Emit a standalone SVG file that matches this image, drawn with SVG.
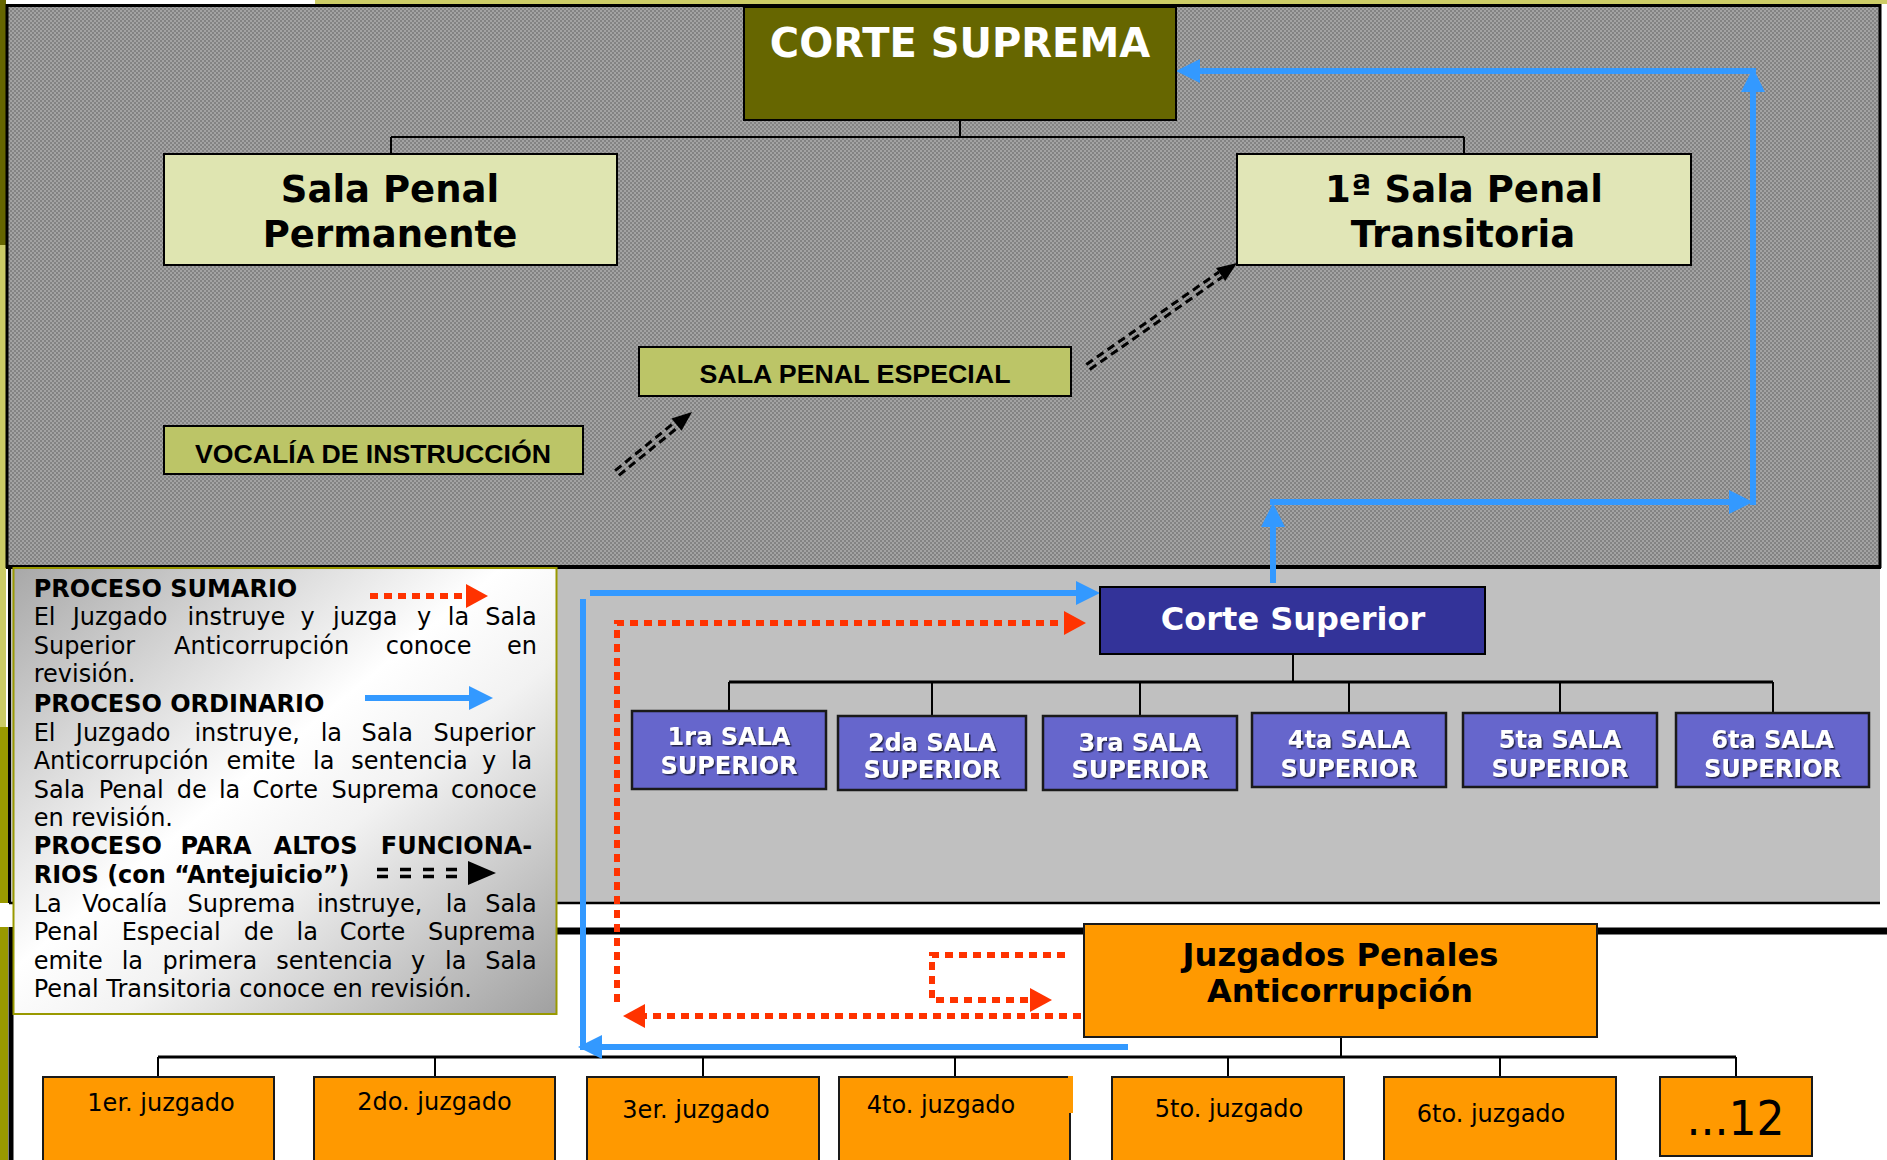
<svg xmlns="http://www.w3.org/2000/svg" width="1887" height="1160" viewBox="0 0 1887 1160">
<defs>
<pattern id="chk" width="4" height="4" patternUnits="userSpaceOnUse">
<rect width="4" height="4" fill="#a3a3a3"/>
<rect width="2" height="2" fill="#838383"/>
<rect x="2" y="2" width="2" height="2" fill="#838383"/>
</pattern>
<linearGradient id="lgGrad" x1="0" y1="0" x2="1" y2="1">
<stop offset="0" stop-color="#a8a8a8"/>
<stop offset="0.45" stop-color="#ffffff"/>
<stop offset="0.6" stop-color="#f2f2f2"/>
<stop offset="1" stop-color="#a0a0a0"/>
</linearGradient>
<marker id="mb" viewBox="0 0 24 24" markerWidth="24" markerHeight="24" refX="0" refY="12" orient="auto" markerUnits="userSpaceOnUse"><path d="M0,0 L24,12 L0,24 Z" fill="#3399ff"/></marker>
<marker id="mr" viewBox="0 0 22 24" markerWidth="22" markerHeight="24" refX="0" refY="12" orient="auto" markerUnits="userSpaceOnUse"><path d="M0,0 L22,12 L0,24 Z" fill="#ff3300"/></marker>
<filter id="sh" x="-10%" y="-10%" width="130%" height="140%"><feDropShadow dx="1.5" dy="1.5" stdDeviation="0.6" flood-color="#1a1a40" flood-opacity="0.9"/></filter>
</defs>
<style>
.db{font-family:'DejaVu Sans',Verdana,sans-serif;font-weight:bold}
.dr{font-family:'DejaVu Sans',Verdana,sans-serif}
.ab{font-family:'Liberation Sans',Arial,sans-serif;font-weight:bold}
.c{text-anchor:middle}
.lg{font-size:24px;fill:#000}
.con{stroke:#000;stroke-width:2;fill:none}
.blue{stroke:#3399ff;stroke-width:6;fill:none}
.red{stroke:#ff3300;stroke-width:6;fill:none;stroke-dasharray:8 6}
.dd{stroke:#000;stroke-width:3;stroke-dasharray:8 5;fill:none}
.box{stroke:#000;stroke-width:2}
.sup{fill:#6666cc;stroke:#1a1a1a;stroke-width:2.5}
.jz{fill:#ff9900;stroke:#1a1a1a;stroke-width:2}
.st{font-size:24px;fill:#fff}
.jt{font-size:24px;fill:#000}
</style>
<rect width="1887" height="1160" fill="#ffffff"/>
<g id="background">
<rect x="315" y="0" width="1572" height="4" fill="#cccc66"/>
<rect x="0" y="0" width="6" height="245" fill="#666600"/>
<rect x="0" y="245" width="6" height="482" fill="#cccc66"/>
<rect x="0" y="727" width="8" height="176" fill="#999900"/>
<rect x="0" y="927" width="8" height="233" fill="#999900"/>
<rect x="7" y="5.5" width="1873" height="561" fill="url(#chk)" stroke="#000" stroke-width="3"/>
<line x1="6" y1="567" x2="1881" y2="567" stroke="#000" stroke-width="4"/>
<rect x="9" y="569" width="1871" height="334" fill="#c0c0c0"/>
<line x1="9.5" y1="566" x2="9.5" y2="903" stroke="#000" stroke-width="3"/>
<line x1="9" y1="903" x2="1880" y2="903" stroke="#000" stroke-width="2.5"/>
<line x1="11" y1="931" x2="1887" y2="931" stroke="#000" stroke-width="7"/>
<line x1="11" y1="927" x2="11" y2="1160" stroke="#000" stroke-width="5"/>
</g>
<g id="connectors">
<path class="con" d="M960,120 V137 M391,137 H1464 M391,137 V154 M1464,137 V154"/>
<path class="con" d="M1293,654 V682"/>
<line x1="729" y1="682" x2="1773" y2="682" stroke="#000" stroke-width="3"/>
<path class="con" d="M729,682 V711 M932,682 V716 M1140,682 V716 M1349,682 V713 M1560,682 V713 M1773,682 V713"/>
<path class="con" d="M1341,1037 V1057"/>
<line x1="158" y1="1057" x2="1736" y2="1057" stroke="#000" stroke-width="3"/>
<path class="con" d="M158,1057 V1077 M435,1057 V1077 M703,1057 V1077 M955,1057 V1077 M1228,1057 V1077 M1500,1057 V1077 M1736,1057 V1077"/>
<path class="blue" d="M1273,583 V527" marker-end="url(#mb)"/>
<path class="blue" d="M1270,502 H1729" marker-end="url(#mb)"/>
<path class="blue" d="M1753,505 V92" marker-end="url(#mb)"/>
<path class="blue" d="M1756,71 H1200" marker-end="url(#mb)"/>
<path class="blue" d="M590,593 H1076" marker-end="url(#mb)"/>
<path class="blue" d="M583,599 V1050"/>
<path class="blue" d="M1128,1047 H602" marker-end="url(#mb)"/>
<path class="red" d="M1081,1016 H645" marker-end="url(#mr)"/>
<path class="red" d="M617,1002 V623 H1064" marker-end="url(#mr)"/>
<path class="red" d="M1065,955 H932 V1000 H1030" marker-end="url(#mr)"/>
<g transform="translate(617,473) rotate(-39.1)">
<line class="dd" x1="0" y1="-3" x2="77" y2="-3"/>
<line class="dd" x1="0" y1="3" x2="77" y2="3"/>
<polygon points="96.7,0 76.7,-8 76.7,8" fill="#000"/>
</g>
<g transform="translate(1088,367) rotate(-34.9)">
<line class="dd" x1="0" y1="-3" x2="161.7" y2="-3"/>
<line class="dd" x1="0" y1="3" x2="161.7" y2="3"/>
<polygon points="181.7,0 161.7,-8 161.7,8" fill="#000"/>
</g>
</g>
<g id="corte-suprema">
<rect x="744" y="7" width="432" height="113" fill="#666600" class="box"/>
<text class="db c" x="960" y="57" font-size="40" fill="#ffffff">CORTE SUPREMA</text>
</g>
<g id="sala-penal-permanente">
<rect x="164" y="154" width="453" height="111" fill="#dfe5b1" class="box"/>
<text class="db c" x="390" y="202" font-size="37">Sala Penal</text>
<text class="db c" x="390" y="247" font-size="37">Permanente</text>
</g>
<g id="sala-penal-transitoria">
<rect x="1237" y="154" width="454" height="111" fill="#e1e6b7" class="box"/>
<text class="db c" x="1464" y="202" font-size="37">1ª Sala Penal</text>
<text class="db c" x="1463" y="247" font-size="37">Transitoria</text>
</g>
<g id="sala-penal-especial">
<rect x="639" y="347" width="432" height="49" fill="#bcc567" class="box"/>
<text class="ab c" x="855" y="383" font-size="26" textLength="311" lengthAdjust="spacingAndGlyphs">SALA PENAL ESPECIAL</text>
</g>
<g id="vocalia">
<rect x="164" y="426" width="419" height="48" fill="#bcc567" class="box"/>
<text class="ab c" x="373" y="463" font-size="26" textLength="356" lengthAdjust="spacingAndGlyphs">VOCALÍA DE INSTRUCCIÓN</text>
</g>
<g id="leyenda">
<rect x="13.5" y="568" width="543" height="446" fill="url(#lgGrad)" stroke="#999900" stroke-width="2"/>
<text class="db lg" x="33.7" y="597">PROCESO SUMARIO</text>
<path class="red" d="M370,596 H466" marker-end="url(#mr)"/>
<text class="dr lg" y="625"><tspan x="33.7">El </tspan><tspan x="72.7">Juzgado </tspan><tspan x="187.5">instruye </tspan><tspan x="300.4">y </tspan><tspan x="333">juzga </tspan><tspan x="417">y </tspan><tspan x="447.8">la </tspan><tspan x="485.3">Sala</tspan></text>
<text class="dr lg" y="654"><tspan x="33.7">Superior </tspan><tspan x="174">Anticorrupción </tspan><tspan x="385.8">conoce </tspan><tspan x="507">en</tspan></text>
<text class="dr lg" x="33.7" y="682">revisión.</text>
<text class="db lg" x="33.7" y="712">PROCESO ORDINARIO</text>
<path class="blue" d="M365,698 H469" stroke-width="7" marker-end="url(#mb)"/>
<text class="dr lg" y="741"><tspan x="33.7">El </tspan><tspan x="75.8">Juzgado </tspan><tspan x="194.4">instruye, </tspan><tspan x="320.7">la </tspan><tspan x="361.6">Sala </tspan><tspan x="433.6">Superior</tspan></text>
<text class="dr lg" y="769"><tspan x="33.7">Anticorrupción </tspan><tspan x="226.6">emite </tspan><tspan x="313">la </tspan><tspan x="351.3">sentencia </tspan><tspan x="482">y </tspan><tspan x="510.9">la</tspan></text>
<text class="dr lg" y="798"><tspan x="33.7">Sala </tspan><tspan x="98.7">Penal </tspan><tspan x="176.8">de </tspan><tspan x="218.9">la </tspan><tspan x="252.6">Corte </tspan><tspan x="331.4">Suprema </tspan><tspan x="451">conoce</tspan></text>
<text class="dr lg" x="33.7" y="826">en revisión.</text>
<text class="db lg" y="854"><tspan x="33.7">PROCESO </tspan><tspan x="180.6">PARA </tspan><tspan x="273.6">ALTOS </tspan><tspan x="380.8">FUNCIONA-</tspan></text>
<text class="db lg" x="33.7" y="883">RIOS (con “Antejuicio”)</text>
<line x1="377" y1="869.5" x2="466" y2="869.5" stroke="#000" stroke-width="3.5" stroke-dasharray="11 12"/>
<line x1="377" y1="876.5" x2="466" y2="876.5" stroke="#000" stroke-width="3.5" stroke-dasharray="11 12"/>
<polygon points="468,861 496,873 468,885" fill="#000"/>
<text class="dr lg" y="912"><tspan x="33.7">La </tspan><tspan x="82.3">Vocalía </tspan><tspan x="187.5">Suprema </tspan><tspan x="316.9">instruye, </tspan><tspan x="445.8">la </tspan><tspan x="485.3">Sala</tspan></text>
<text class="dr lg" y="940"><tspan x="33.7">Penal </tspan><tspan x="121.7">Especial </tspan><tspan x="243.8">de </tspan><tspan x="296.6">la </tspan><tspan x="339.8">Corte </tspan><tspan x="427.9">Suprema</tspan></text>
<text class="dr lg" y="969"><tspan x="33.7">emite </tspan><tspan x="121.7">la </tspan><tspan x="162.6">primera </tspan><tspan x="276.3">sentencia </tspan><tspan x="411">y </tspan><tspan x="445.1">la </tspan><tspan x="485.3">Sala</tspan></text>
<text class="dr lg" x="33.7" y="997">Penal Transitoria conoce en revisión.</text>
</g>
<g id="corte-superior">
<rect x="1100" y="587" width="385" height="67" fill="#333399" class="box"/>
<text class="db c" x="1293" y="630" font-size="32" fill="#ffffff">Corte Superior</text>
</g>
<g id="sala-superior-1">
<rect x="632" y="711" width="194" height="78" class="sup"/>
<text class="db c st" x="729" y="745" filter="url(#sh)">1ra SALA</text>
<text class="db c st" x="729" y="774" filter="url(#sh)">SUPERIOR</text>
</g>
<g id="sala-superior-2">
<rect x="838" y="716" width="188" height="74" class="sup"/>
<text class="db c st" x="932" y="751" filter="url(#sh)">2da SALA</text>
<text class="db c st" x="932" y="778" filter="url(#sh)">SUPERIOR</text>
</g>
<g id="sala-superior-3">
<rect x="1043" y="716" width="194" height="74" class="sup"/>
<text class="db c st" x="1140" y="751" filter="url(#sh)">3ra SALA</text>
<text class="db c st" x="1140" y="778" filter="url(#sh)">SUPERIOR</text>
</g>
<g id="sala-superior-4">
<rect x="1252" y="713" width="194" height="74" class="sup"/>
<text class="db c st" x="1349" y="748" filter="url(#sh)">4ta SALA</text>
<text class="db c st" x="1349" y="777" filter="url(#sh)">SUPERIOR</text>
</g>
<g id="sala-superior-5">
<rect x="1463" y="713" width="194" height="74" class="sup"/>
<text class="db c st" x="1560" y="748" filter="url(#sh)">5ta SALA</text>
<text class="db c st" x="1560" y="777" filter="url(#sh)">SUPERIOR</text>
</g>
<g id="sala-superior-6">
<rect x="1676" y="713" width="193" height="74" class="sup"/>
<text class="db c st" x="1772.5" y="748" filter="url(#sh)">6ta SALA</text>
<text class="db c st" x="1772.5" y="777" filter="url(#sh)">SUPERIOR</text>
</g>
<g id="juzgados-penales">
<rect x="1084" y="924" width="513" height="113" class="jz"/>
<text class="db c" x="1340.5" y="966" font-size="32" textLength="316" lengthAdjust="spacingAndGlyphs">Juzgados Penales</text>
<text class="db c" x="1340" y="1002" font-size="32" textLength="266" lengthAdjust="spacingAndGlyphs">Anticorrupción</text>
</g>
<g id="juzgado-1"><rect x="43" y="1077" width="231" height="90" class="jz"/><text class="dr c jt" x="161" y="1111">1er. juzgado</text></g>
<g id="juzgado-2"><rect x="314" y="1077" width="241" height="90" class="jz"/><text class="dr c jt" x="434.5" y="1110">2do. juzgado</text></g>
<g id="juzgado-3"><rect x="587" y="1077" width="232" height="90" class="jz"/><text class="dr c jt" x="696" y="1118">3er. juzgado</text></g>
<g id="juzgado-4"><rect x="839" y="1077" width="231" height="90" class="jz"/><rect x="1068" y="1076" width="5" height="37" fill="#ff9900"/><text class="dr c jt" x="941" y="1113">4to. juzgado</text></g>
<g id="juzgado-5"><rect x="1112" y="1077" width="232" height="90" class="jz"/><text class="dr c jt" x="1229" y="1117">5to. juzgado</text></g>
<g id="juzgado-6"><rect x="1384" y="1077" width="232" height="90" class="jz"/><text class="dr c jt" x="1491" y="1122">6to. juzgado</text></g>
<g id="juzgado-12"><rect x="1660" y="1077" width="152" height="79" class="jz"/><text class="dr c" x="1735.5" y="1135" font-size="48" textLength="98" lengthAdjust="spacingAndGlyphs">...12</text></g>
</svg>
